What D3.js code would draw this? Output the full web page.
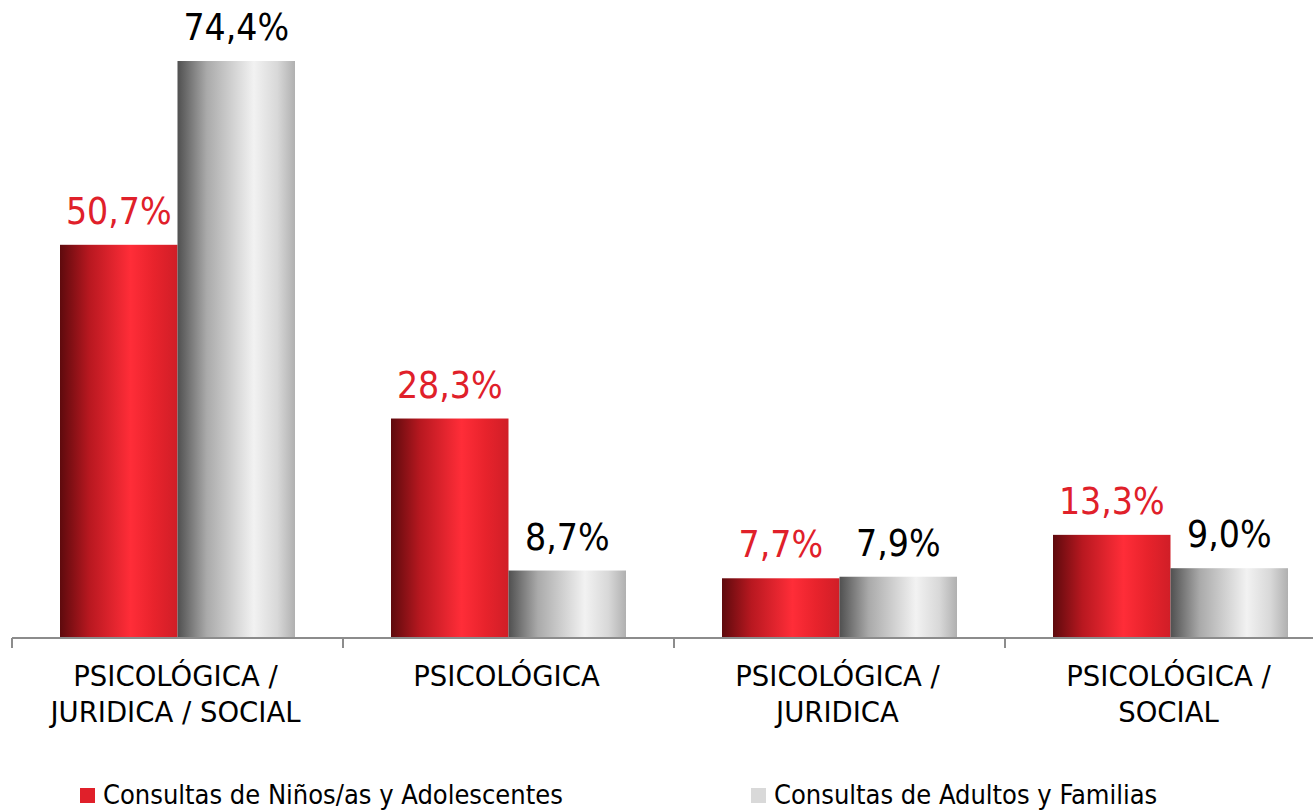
<!DOCTYPE html>
<html>
<head>
<meta charset="utf-8">
<script src="https://cdn.jsdelivr.net/npm/d3@7"></script>
<style>
  body { margin: 0; background: #fff; }
  svg { display: block; font-family: "DejaVu Sans Condensed", "DejaVu Sans", sans-serif; }
</style>
</head>
<body>
<div id="chart"></div>
<script>
const categories = [
    ["PSICOLÓGICA /", "JURIDICA / SOCIAL"],
    ["PSICOLÓGICA"],
    ["PSICOLÓGICA /", "JURIDICA"],
    ["PSICOLÓGICA /", "SOCIAL"]
];
const seriesNames = ["Consultas de Niños/as y Adolescentes", "Consultas de Adultos y Familias"];
const ninos = [50.7, 28.3, 7.7, 13.3];
const adultos = [74.4, 8.7, 7.9, 9.0];

const width = 1313, height = 810;
const baseline = 638;

const svg = d3.select("#chart").append("svg")
    .attr("width", width)
    .attr("height", height);

// gradients to mimic the cylinder-like shading
const defs = svg.append("defs");
const redGrad = defs.append("linearGradient").attr("id", "gRed").attr("x1", 0).attr("x2", 1).attr("y1", 0).attr("y2", 0);
[[0, "#5e0a0d"], [0.25, "#b81820"], [0.6, "#ff2d38"], [0.8, "#e8232c"], [1, "#d01e27"]]
    .forEach(s => redGrad.append("stop").attr("offset", s[0]).attr("stop-color", s[1]));
const grayGrad = defs.append("linearGradient").attr("id", "gGray").attr("x1", 0).attr("x2", 1).attr("y1", 0).attr("y2", 0);
[[0, "#505050"], [0.25, "#aaaaaa"], [0.65, "#f2f2f2"], [0.85, "#d8d8d8"], [1, "#b0b0b0"]]
    .forEach(s => grayGrad.append("stop").attr("offset", s[0]).attr("stop-color", s[1]));

const idx = d3.range(categories.length);

const x0 = d3.scaleBand()
    .domain(idx)
    .range([12, 12 + 331 * 4])
    .paddingInner(0)
    .paddingOuter(0);

const x1 = d3.scaleBand()
    .domain([0, 1])
    .range([48, 283]);

const y = d3.scaleLinear()
    .domain([0, 74.4])
    .range([baseline, 61]);

const series = [
    { values: ninos, fill: "url(#gRed)", label: "#e0202a" },
    { values: adultos, fill: "url(#gGray)", label: "#000" }
];

const groups = svg.selectAll(".grp")
    .data(idx)
    .enter().append("g")
    .attr("class", "grp")
    .attr("transform", i => "translate(" + x0(i) + ",0)");

series.forEach((s, si) => {
    groups.append("rect")
        .attr("x", x1(si))
        .attr("y", i => y(s.values[i]))
        .attr("width", x1.bandwidth())
        .attr("height", i => baseline - y(s.values[i]))
        .attr("fill", s.fill);

    groups.append("text")
        .attr("x", x1(si) + x1.bandwidth() / 2)
        .attr("y", i => y(s.values[i]) - 21)
        .attr("text-anchor", "middle")
        .style("font-size", "37px")
        .style("fill", s.label)
        .text(i => s.values[i].toFixed(1).replace(".", ",") + "%");
});

// axis line with ticks at band edges
const axis = svg.append("g");
axis.append("line")
    .attr("x1", 12).attr("x2", width)
    .attr("y1", baseline).attr("y2", baseline)
    .attr("stroke", "#8c8c8c").attr("stroke-width", 2);
axis.selectAll(".tk")
    .data(idx)
    .enter().append("line")
    .attr("x1", i => x0(i)).attr("x2", i => x0(i))
    .attr("y1", baseline).attr("y2", baseline + 10)
    .attr("stroke", "#8c8c8c").attr("stroke-width", 2);

// category labels
groups.append("text")
    .attr("text-anchor", "middle")
    .attr("x", x0.bandwidth() / 2 - 2)
    .attr("y", 686)
    .style("font-family", "'DejaVu Sans', sans-serif")
    .style("font-size", "27.5px")
    .style("fill", "#000")
    .selectAll("tspan")
    .data(i => categories[i])
    .enter().append("tspan")
    .attr("x", x0.bandwidth() / 2 - 2)
    .attr("dy", (d, j) => j === 0 ? 0 : 36)
    .text(d => d);

// legend
const legendPos = [80, 751];
const legendColors = ["#e0202a", "#d9d9d9"];
const legend = svg.selectAll(".lg")
    .data(seriesNames)
    .enter().append("g")
    .attr("transform", (d, i) => "translate(" + legendPos[i] + ",0)");
legend.append("rect")
    .attr("x", 0).attr("y", 788)
    .attr("width", 15).attr("height", 15)
    .attr("fill", (d, i) => legendColors[i]);
legend.append("text")
    .attr("x", 23).attr("y", 804)
    .style("font-size", "27px")
    .style("fill", "#000")
    .text(d => d);
</script>
</body>
</html>
